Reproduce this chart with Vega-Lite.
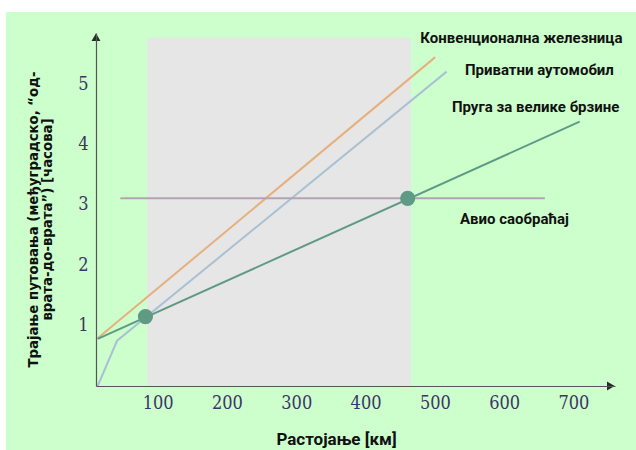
{
  "$schema": "https://vega.github.io/schema/vega-lite/v6.json",
  "width": 519,
  "height": 353,
  "autosize": {"type": "none"},
  "padding": {"left": 96, "top": 33, "right": 21, "bottom": 64},
  "background": "white",
  "config": {"view": {"stroke": null}},
  "datasets": {
    "lines": [
      {"series": "rail", "km": 13.4, "h": 0.79},
      {"series": "rail", "km": 500.6, "h": 5.45},
      {"series": "car", "km": 13.4, "h": 0},
      {"series": "car", "km": 41.4, "h": 0.75},
      {"series": "car", "km": 517, "h": 5.21},
      {"series": "hsr", "km": 13.4, "h": 0.78},
      {"series": "hsr", "km": 709, "h": 4.38},
      {"series": "air", "km": 46.1, "h": 3.11},
      {"series": "air", "km": 658.7, "h": 3.11}
    ],
    "dots": [
      {"km": 82.4, "h": 1.15},
      {"km": 460.8, "h": 3.11}
    ],
    "band": [
      {"from": 84.9, "to": 465.4, "low": 0, "high": 5.77}
    ],
    "labels": [
      {"text": "Конвенционална  железница", "km": 479.1, "h": 5.77},
      {"text": "Приватни аутомобил", "km": 543.4, "h": 5.23},
      {"text": "Пруга за велике брзине", "km": 524.6, "h": 4.62},
      {"text": "Авио саобраћај", "km": 536.3, "h": 2.77}
    ],
    "arrows": [
      {"km": 11, "h": 5.78, "dir": "up"},
      {"km": 754, "h": 0, "dir": "right"}
    ]
  },
  "layer": [
    {
      "data": {"values": [{}]},
      "mark": {"type": "rect", "fill": "#ccffcc", "clip": false},
      "encoding": {
        "x": {
          "datum": -119, "type": "quantitative",
          "scale": {"domain": [11, 760], "nice": false, "zero": false},
          "axis": {
            "title": "Растојање [км]", "zindex": 1,
            "values": [100, 200, 300, 400, 500, 600, 700], "format": "d",
            "ticks": false, "grid": false,
            "domainColor": "#555555", "domainWidth": 1.2,
            "labelFont": "DejaVu Serif Condensed, Liberation Serif",
            "labelFontSize": 18, "labelColor": "#3c3466", "labelPadding": 8,
            "titleFont": "Roboto", "titleFontSize": 17, "titleFontWeight": "bold",
            "titleColor": "#111111", "titlePadding": 19, "titleX": 240
          }
        },
        "x2": {"datum": 1200},
        "y": {
          "datum": 6.2, "type": "quantitative",
          "scale": {"domain": [0, 5.85], "nice": false, "zero": false},
          "axis": {
            "title": ["Трајање путовања (међуградско, “од-", "врата-до-врата”) [часова]"], "zindex": 1,
            "values": [1, 2, 3, 4, 5], "format": "d",
            "ticks": false, "grid": false,
            "domainColor": "#555555", "domainWidth": 1.2,
            "labelFont": "DejaVu Serif Condensed, Liberation Serif",
            "labelFontSize": 18, "labelColor": "#3c3466", "labelPadding": 8,
            "titleFont": "DejaVu Sans", "titleFontSize": 13.3, "titleFontWeight": "bold",
            "titleColor": "#111111", "titlePadding": 23, "titleLineHeight": 14.5, "titleY": 186
          }
        },
        "y2": {"datum": -3}
      }
    },
    {
      "data": {"name": "band"},
      "mark": {"type": "rect", "fill": "#e6e6e6"},
      "encoding": {
        "x": {"field": "from", "type": "quantitative"},
        "x2": {"field": "to"},
        "y": {"field": "low", "type": "quantitative"},
        "y2": {"field": "high"}
      }
    },
    {
      "data": {"name": "lines"},
      "mark": {"type": "line", "strokeCap": "butt"},
      "encoding": {
        "x": {"field": "km", "type": "quantitative"},
        "y": {"field": "h", "type": "quantitative"},
        "color": {
          "field": "series", "type": "nominal", "legend": null,
          "scale": {"domain": ["rail", "car", "hsr", "air"], "range": ["#e6b07e", "#a9c1d3", "#5f9a85", "#b5a3b5"]}
        },
        "strokeWidth": {
          "field": "series", "type": "nominal", "legend": null,
          "scale": {"domain": ["rail", "car", "hsr", "air"], "range": [2, 2, 2.6, 3.2]}
        }
      }
    },
    {
      "data": {"name": "dots"},
      "mark": {"type": "circle", "color": "#5f9a85", "opacity": 1, "size": 230},
      "encoding": {
        "x": {"field": "km", "type": "quantitative"},
        "y": {"field": "h", "type": "quantitative"}
      }
    },
    {
      "data": {"name": "arrows"},
      "mark": {"type": "point", "filled": true, "color": "#2a2a2a", "opacity": 1, "size": 80, "clip": false},
      "encoding": {
        "x": {"field": "km", "type": "quantitative"},
        "y": {"field": "h", "type": "quantitative"},
        "shape": {"field": "dir", "type": "nominal", "legend": null, "scale": {"domain": ["up", "right"], "range": ["triangle-up", "triangle-right"]}}
      }
    },
    {
      "data": {"name": "labels"},
      "mark": {"type": "text", "align": "left", "baseline": "middle", "font": "Roboto", "fontSize": 15, "fontWeight": "bold", "color": "#111111", "clip": false},
      "encoding": {
        "x": {"field": "km", "type": "quantitative"},
        "y": {"field": "h", "type": "quantitative"},
        "text": {"field": "text"}
      }
    }
  ]
}
